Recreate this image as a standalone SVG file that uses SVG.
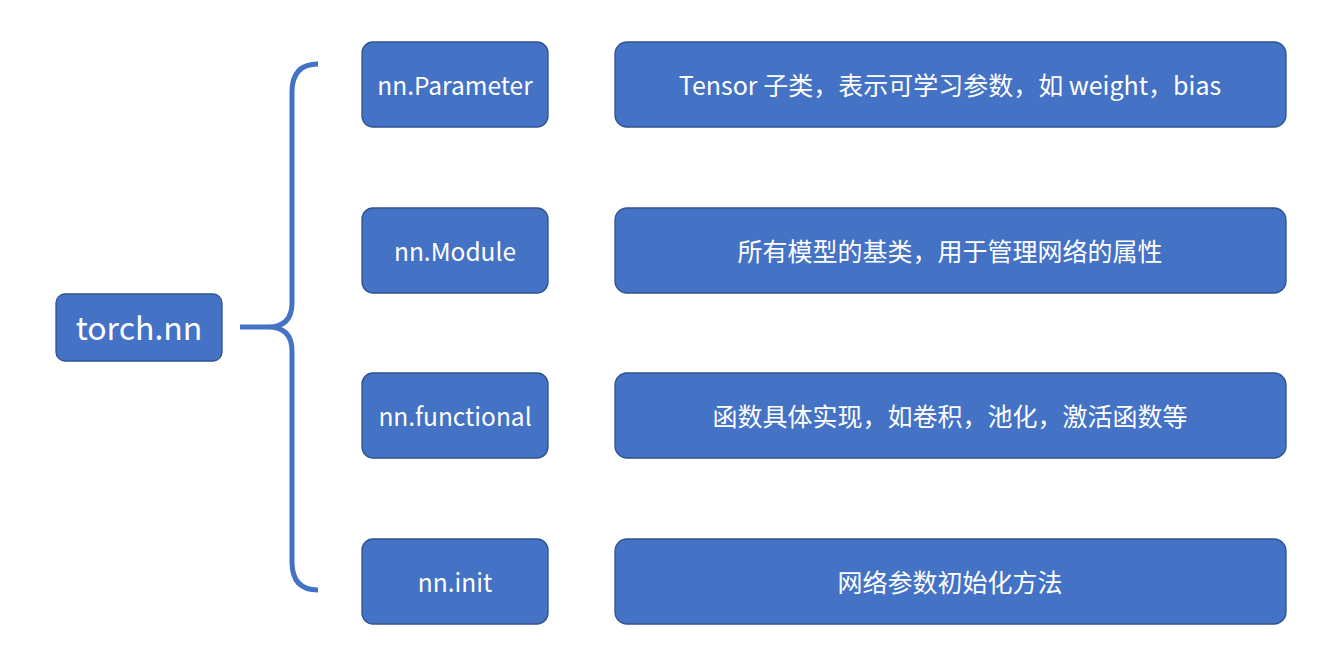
<svg xmlns="http://www.w3.org/2000/svg" width="1330" height="661" viewBox="0 0 1330 661">
<style>
.box{fill:#4472C4;stroke:#2F528F;stroke-width:1.3}
.t{fill:#fff;font-family:"Noto Sans CJK SC","Noto Sans",sans-serif;font-size:24.5px;text-anchor:middle;dominant-baseline:central}
.d{font-size:25px}
.conn{fill:none;stroke:#4472C4;stroke-width:5}
</style>
<rect width="1330" height="661" fill="#fff"/>
<g id="connectors">
<path class="conn" d="M318,64 Q292,64 292,92 L292,303 Q292,327 268,327 L240,327 M268,327 Q292,327 292,351 L292,562 Q292,590 318,590"/>
</g>
<g id="torch-nn"><rect class="box" x="56" y="294" width="166" height="67" rx="9"/><text class="t" x="139" y="326" style="font-size:32px">torch.nn</text></g>
<g id="nn-parameter"><rect class="box" x="362" y="42" width="186" height="85" rx="11"/><text class="t" x="455" y="84">nn.Parameter</text></g>
<g id="nn-module"><rect class="box" x="362" y="208" width="186" height="85" rx="11"/><text class="t" x="455" y="250">nn.Module</text></g>
<g id="nn-functional"><rect class="box" x="362" y="373" width="186" height="85" rx="11"/><text class="t" x="455" y="415">nn.functional</text></g>
<g id="nn-init"><rect class="box" x="362" y="539" width="186" height="85" rx="11"/><text class="t" x="455" y="581">nn.init</text></g>
<g id="desc-parameter"><rect class="box" x="615" y="42" width="671" height="85" rx="12"/><text class="t d" x="950" y="84">Tensor 子类，表示可学习参数，如 weight，bias</text></g>
<g id="desc-module"><rect class="box" x="615" y="208" width="671" height="85" rx="12"/><text class="t d" x="950" y="250">所有模型的基类，用于管理网络的属性</text></g>
<g id="desc-functional"><rect class="box" x="615" y="373" width="671" height="85" rx="12"/><text class="t d" x="950" y="415">函数具体实现，如卷积，池化，激活函数等</text></g>
<g id="desc-init"><rect class="box" x="615" y="539" width="671" height="85" rx="12"/><text class="t d" x="950" y="581">网络参数初始化方法</text></g>
</svg>
